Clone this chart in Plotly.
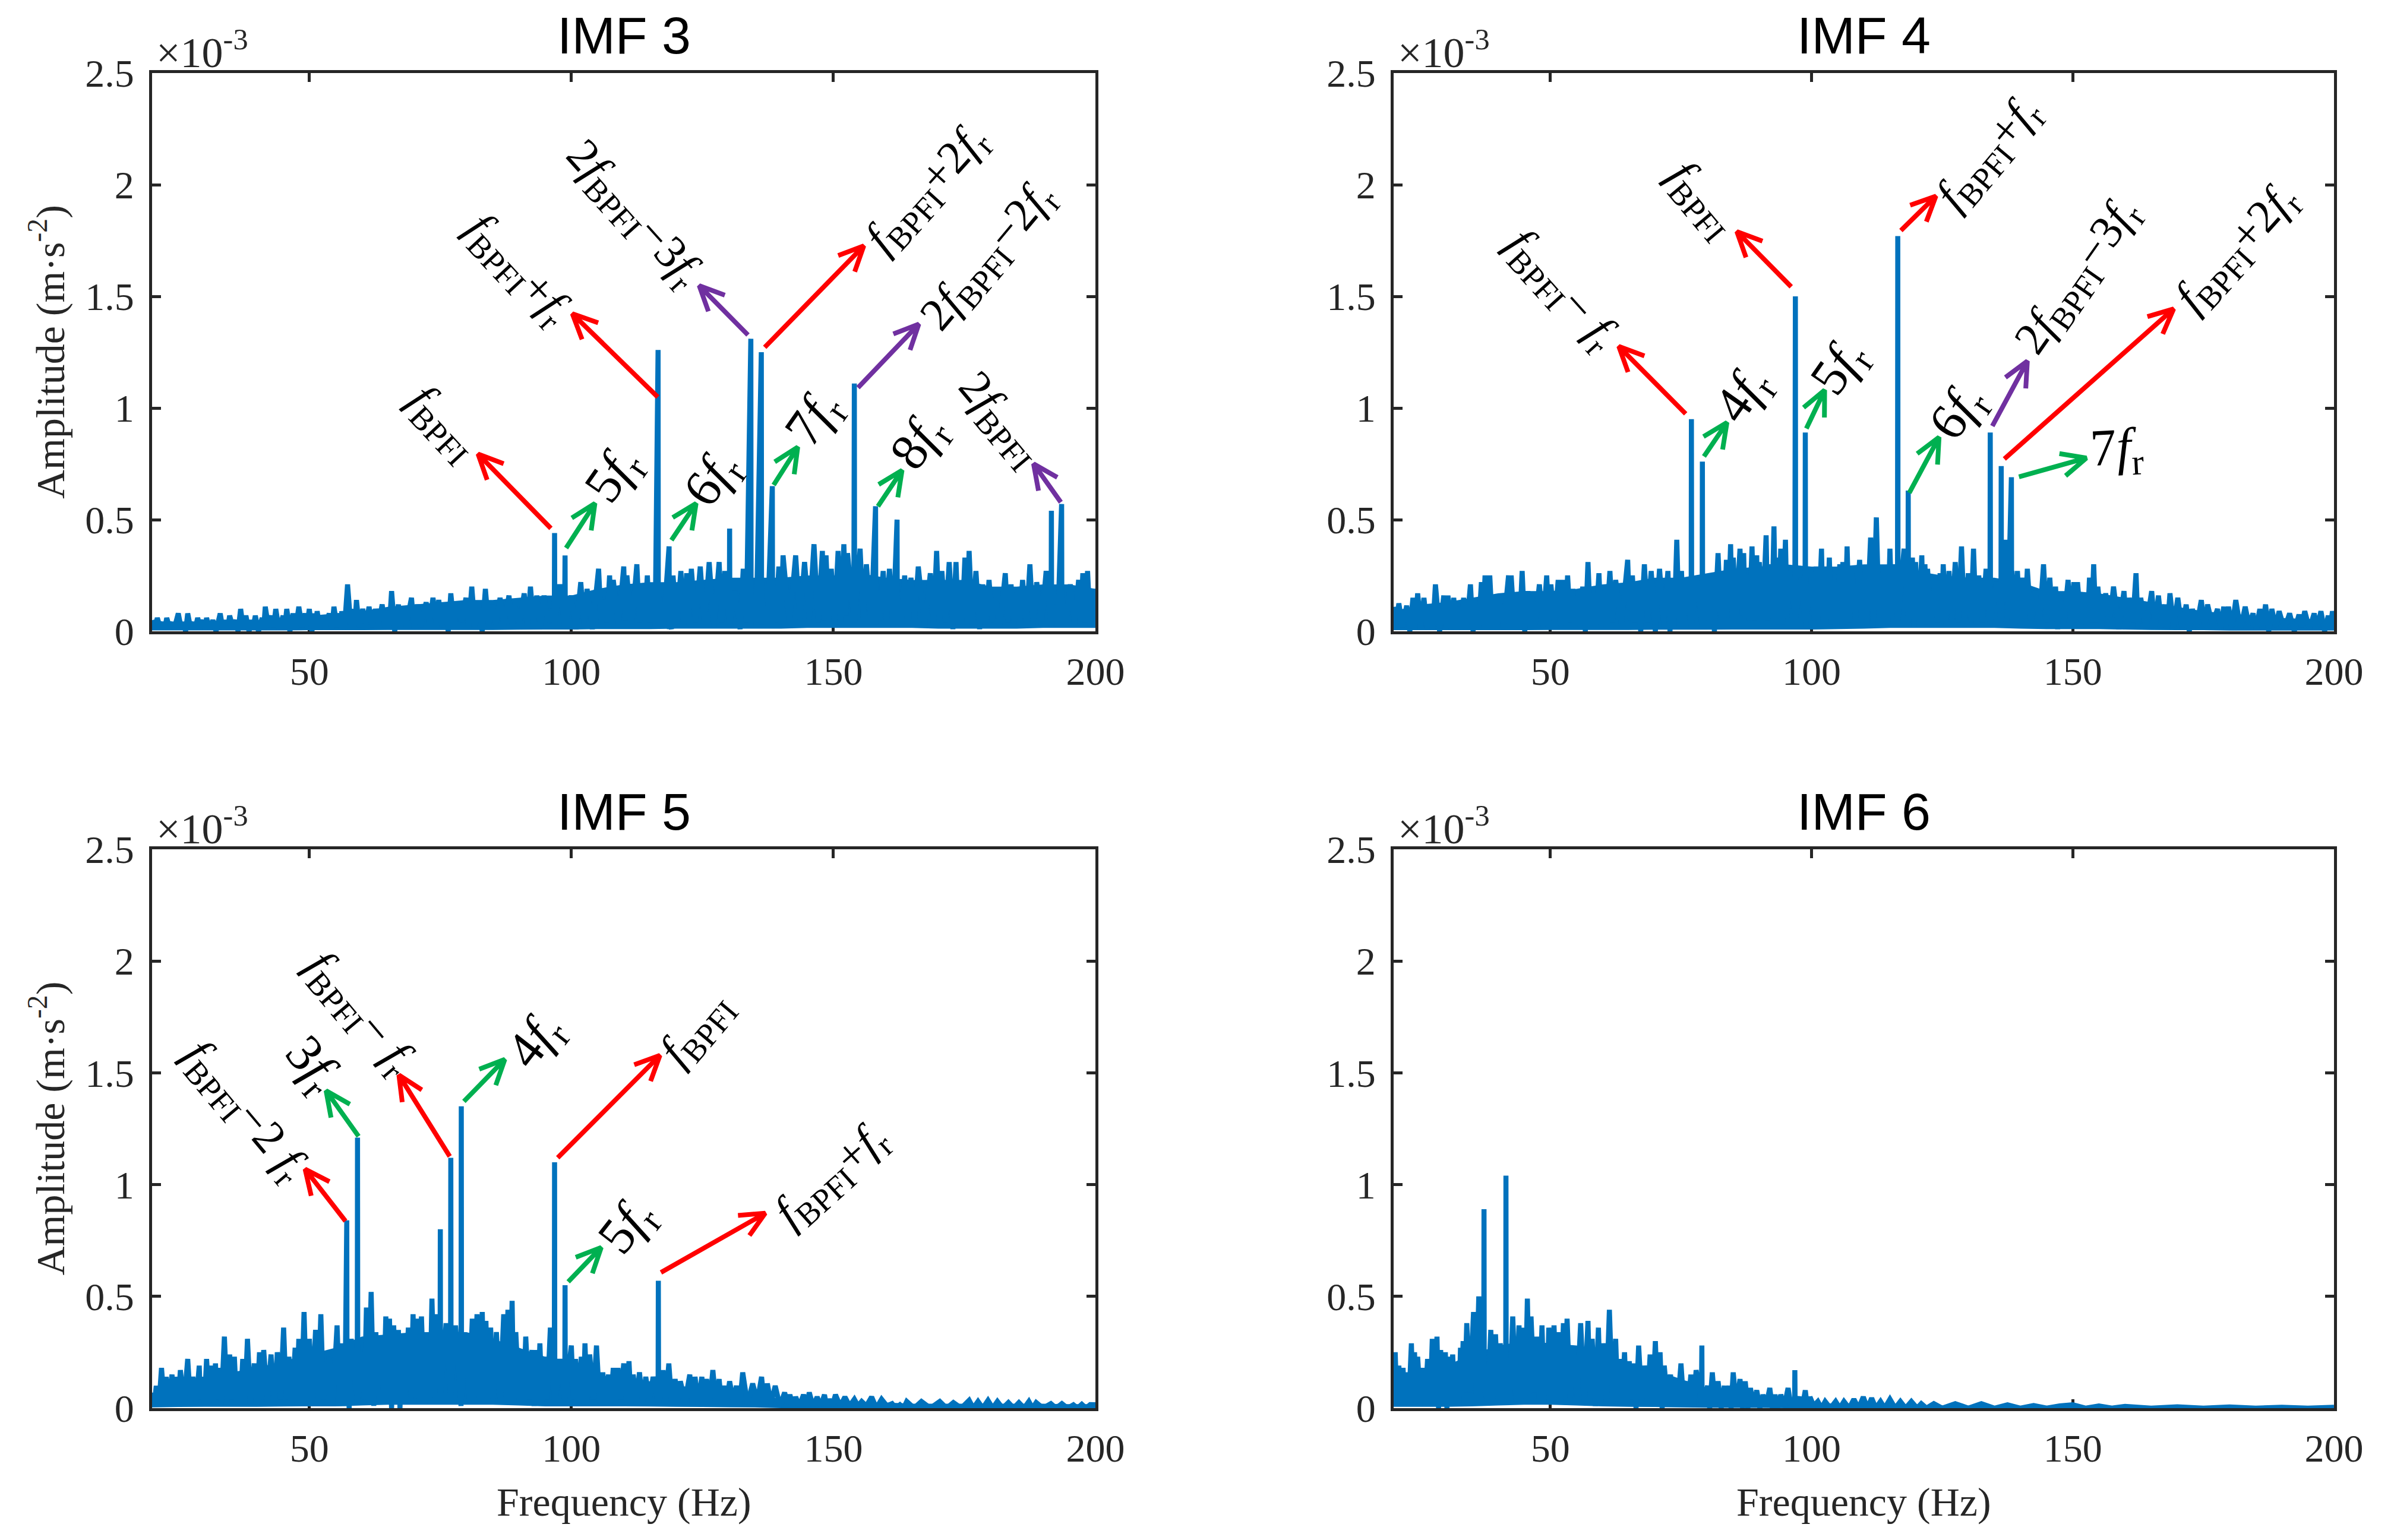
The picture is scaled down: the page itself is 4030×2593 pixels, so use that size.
import math
import plotly.graph_objects as go

W, H = 4030, 2593
PAGE_MARGIN = 8  # the page body sits the plot this far in from the window corner

# spectra, amplitude in 1e-3 m/s^2 (alternating peak / trough)
imf3_freq = [
    20, 20.5, 21, 21.5, 22, 22.4, 22.8, 23.3, 23.8, 24.2, 25, 25.5, 26, 26.4, 26.8, 27.3, 27.8, 28.2, 28.7, 29.2,
    29.8, 30.1, 30.4, 31, 31.6, 32.2, 33, 33.5, 34, 34.4, 34.8, 35.4, 36, 36.4, 36.9, 37.4, 37.9, 38.5, 39, 39.3,
    39.7, 40.3, 41, 41.3, 41.6, 42.2, 42.8, 43.2, 43.6, 44.2, 45, 45.3, 45.7, 46.3, 46.9, 47.4, 48, 48.6, 49.2, 49.6,
    50, 50.5, 51, 51.2, 51.5, 52, 52.6, 53.1, 53.8, 54.3, 54.7, 55.3, 55.8, 56, 56.2, 56.7, 57.3, 57.9, 58.4, 58.7,
    59, 59.5, 60.2, 60.8, 61.4, 62, 62.6, 63.2, 63.9, 64.5, 65, 65.3, 65.7, 66.3, 67, 67.5, 68, 68.5, 69.5, 70,
    70.6, 71.2, 72.3, 72.9, 73.6, 74.2, 74.7, 75.3, 76, 76.5, 77, 77.6, 78.2, 79, 79.9, 80.4, 81, 81.6, 82.2, 83,
    83.6, 84.2, 84.9, 85.6, 86.4, 87.1, 88.1, 88.7, 89.3, 90.1, 91, 91.6, 92.2, 92.8, 93.4, 94.1, 94.8, 95.5, 96.3, 96.75,
    96.8, 96.85, 97.8, 98.7, 98.8, 98.85, 100, 100.9, 101.8, 102.4, 103, 104, 105.2, 105.7, 106.4, 106.8, 107.3, 107.6, 108, 109,
    110, 110.3, 110.6, 111.5, 112.5, 113, 113.5, 114, 114.5, 114.9, 115.3, 116, 116.55, 116.6, 116.65, 117.6, 118.65, 118.7, 118.75, 119.1,
    119.4, 120.1, 120.9, 121.4, 122, 122.4, 122.9, 123.7, 124.6, 125.4, 126.3, 127.2, 128.2, 128.7, 129.3, 130.15, 130.2, 130.25, 131.2, 132.2,
    132.8, 133.4, 134.25, 134.3, 134.35, 135.3, 136.25, 136.3, 136.35, 137.4, 138.35, 138.4, 138.45, 139, 139.6, 140, 140.4, 141.6, 142.8, 143.6,
    144.5, 145.4, 146.3, 147.1, 147.9, 148.2, 148.6, 149.1, 149.6, 150.2, 150.9, 151.4, 152, 152.4, 152.7, 153.9, 154, 154.05, 155.1, 155.7,
    156.3, 157.2, 158.05, 158.1, 158.15, 158.8, 159.5, 160.1, 160.7, 161.4, 162.15, 162.2, 162.25, 162.9, 163.6, 164.2, 164.8, 165.5, 166.2, 167.4,
    168.5, 169.1, 169.7, 170.2, 170.7, 171.4, 172.1, 172.8, 173.4, 173.8, 174.1, 174.6, 175.1, 175.5, 175.9, 176.5, 177.2, 177.9, 178.5, 179.1,
    179.7, 180.3, 180.8, 181.8, 182.8, 183.3, 183.9, 184.5, 185.1, 185.6, 186.1, 186.8, 187.5, 188.1, 188.8, 189.7, 190.6, 191.55, 191.6, 191.65,
    192.2, 192.8, 193.55, 193.6, 193.65, 194.4, 195.2, 196, 196.8, 197.2, 197.6, 198, 198.5, 199, 199.6, 200,
]
imf3_amp = [
    .05, .01, .06, .02, .04, .01, .06, .02, .04, .01, .08, .02, .04, .00, .08, .02, .04, .01, .06, .02,
    .05, .01, .06, .01, .05, .00, .08, .01, .05, .01, .07, .02, .05, .00, .10, .01, .07, .00, .05, .02,
    .07, .00, .06, .01, .11, .02, .07, .02, .10, .01, .07, .01, .10, .00, .08, .01, .11, .02, .08, .03,
    .10, .00, .08, .02, .09, .01, .07, .02, .08, .01, .11, .02, .08, .01, .09, .01, .21, .03, .10, .03,
    .14, .02, .10, .03, .11, .02, .10, .03, .12, .01, .09, .03, .18, .00, .12, .02, .10, .03, .15, .01,
    .12, .02, .13, .03, .15, .04, .14, .02, .11, .00, .17, .03, .12, .04, .15, .01, .20, .02, .13, .00,
    .19, .02, .12, .03, .15, .03, .16, .02, .11, .03, .17, .01, .20, .03, .16, .02, .16, .04, .10, .03,
    .44, .03, .21, .02, .34, .03, .16, .01, .22, .03, .19, .01, .28, .03, .14, .04, .25, .05, .23, .03,
    .29, .05, .25, .02, .30, .04, .20, .05, .25, .04, .21, .02, 1.26, .02, .17, .03, .38, .01, .04, .01,
    .25, .03, .27, .02, .26, .05, .28, .04, .29, .02, .31, .02, .31, .04, .27, .02, .46, .03, .18, .01,
    .28, .04, 1.31, .02, .16, .04, 1.25, .03, .14, .02, .65, .02, .18, .04, .29, .03, .34, .03, .34, .05,
    .31, .05, .39, .04, .36, .05, .34, .06, .28, .02, .36, .03, .39, .07, .35, .05, 1.11, .04, .37, .06,
    .30, .03, .56, .03, .18, .05, .27, .05, .28, .02, .50, .03, .15, .02, .25, .03, .24, .05, .29, .02,
    .26, .03, .36, .04, .27, .04, .31, .01, .31, .05, .22, .06, .33, .04, .36, .02, .27, .01, .21, .03,
    .23, .04, .15, .03, .26, .04, .21, .03, .19, .05, .23, .02, .30, .03, .22, .03, .27, .02, .54, .03,
    .12, .02, .57, .03, .15, .04, .21, .03, .23, .05, .26, .04, .27, .02, .19, .10,
]

imf4_freq = [
    20, 20.4, 21, 21.7, 22.5, 23.1, 23.7, 24.1, 24.6, 25.2, 25.8, 26.4, 27, 27.5, 28, 28.8, 29.6, 30, 30.4, 31,
    31.5, 32, 32.5, 33, 33.4, 34, 34.7, 35.2, 35.8, 36.3, 36.8, 37.1, 37.5, 38, 38.4, 38.9, 39.4, 39.8, 40.2, 41,
    42, 42.2, 42.5, 43.1, 43.7, 44.1, 44.6, 45.1, 45.7, 46, 46.4, 47.1, 47.9, 48.6, 49.3, 49.7, 50.1, 50.8, 51.5, 52,
    52.4, 52.9, 53.3, 53.8, 54.3, 54.7, 55.1, 55.6, 56.2, 56.7, 57.2, 57.7, 58.1, 58.7, 59.3, 59.7, 60.1, 60.7, 61.4, 61.9,
    62.5, 63.6, 64.8, 65.2, 65.7, 66.2, 66.7, 67.3, 68, 68.6, 69.3, 70.1, 70.9, 71.7, 72.5, 72.9, 73.3, 73.7, 74.2, 74.6,
    75.1, 75.5, 76, 76.95, 77, 77.05, 78, 79.05, 79.1, 79.15, 79.8, 80.3, 80.8, 81.4, 82.1, 82.6, 83, 83.3, 83.7, 84.1,
    84.5, 84.8, 85, 85.6, 86.3, 86.7, 87, 87.3, 87.7, 88.1, 88.6, 89, 89.5, 89.7, 90, 90.6, 91.3, 91.6, 92, 92.4,
    92.8, 93.1, 93.4, 93.7, 94.1, 94.5, 95, 95.3, 95.7, 96.8, 96.9, 96.95, 98, 98.75, 98.8, 98.85, 100.1, 100.5, 100.9, 101.4,
    101.9, 102.2, 102.6, 103, 103.4, 103.8, 104.2, 104.8, 105.4, 105.7, 106, 106.4, 106.8, 107.2, 107.7, 108.4, 109.2, 109.6, 110, 110.6,
    111.3, 111.8, 112.4, 112.9, 113.4, 113.8, 114.2, 114.6, 115, 115.4, 115.8, 116.45, 116.5, 116.55, 117.7, 118.45, 118.5, 118.55, 119.3, 119.6,
    119.9, 120.5, 121.1, 121.4, 121.7, 122, 122.2, 122.9, 123.6, 124.1, 124.6, 124.9, 125.2, 125.7, 126.3, 126.9, 127.5, 128.1, 128.7, 129.3,
    130, 130.5, 131, 131.5, 132, 132.7, 133.4, 134.15, 134.2, 134.25, 135.4, 136.25, 136.3, 136.35, 137.1, 137.6, 138.25, 138.3, 138.35, 139,
    139.4, 139.9, 140.3, 140.8, 141.3, 142, 142.8, 143.6, 144.4, 145, 145.6, 146.1, 146.7, 147.1, 147.5, 148.3, 149.1, 149.6, 150.2, 150.5,
    150.9, 151.6, 152.4, 152.8, 153.2, 153.6, 154, 154.4, 154.8, 155.5, 156.3, 157, 157.8, 158.8, 159.8, 160.3, 160.8, 161.5, 162.1, 162.5,
    163, 164, 165.1, 165.7, 166.4, 167, 167.7, 168.1, 168.6, 169.3, 170.1, 170.9, 171.7, 172.3, 172.9, 173.7, 174.6, 175.2, 175.8, 176.7,
    177.7, 178.3, 178.9, 179.3, 179.8, 180.5, 181.2, 182.1, 183, 183.7, 184.5, 185.1, 185.8, 186.3, 186.9, 187.5, 188.1, 188.8, 189.5, 190.5,
    191.5, 192.4, 193.3, 193.8, 194.4, 195.3, 196.2, 196.8, 197.5, 198.2, 198.9, 199.3, 199.7, 200,
]
imf4_amp = [
    .11, .01, .125, .02, .115, .00, .15, .01, .17, .02, .15, .01, .11, .01, .21, .00, .16, .02, .16, .01,
    .15, .02, .11, .01, .15, .02, .21, .00, .12, .02, .22, .03, .25, .01, .25, .02, .16, .03, .16, .01,
    .25, .02, .25, .02, .14, .01, .27, .00, .18, .03, .17, .03, .21, .02, .25, .05, .21, .03, .23, .02,
    .23, .03, .25, .04, .19, .02, .16, .03, .20, .00, .31, .02, .17, .03, .26, .03, .17, .02, .27, .04,
    .23, .03, .32, .05, .25, .04, .20, .00, .30, .04, .27, .00, .28, .03, .27, .00, .23, .02, .41, .06,
    .27, .01, .24, .02, .95, .03, .24, .02, .76, .03, .20, .05, .26, .00, .35, .06, .26, .06, .32, .10,
    .39, .06, .33, .07, .37, .07, .35, .06, .25, .05, .38, .05, .34, .06, .31, .03, .43, .05, .30, .06,
    .47, .06, .33, .03, .37, .03, .41, .06, .27, .08, 1.5, .06, .24, .04, .89, .02, .26, .05, .29, .07,
    .37, .04, .29, .06, .33, .03, .23, .02, .30, .04, .31, .03, .38, .04, .26, .05, .32, .04, .25, .03,
    .42, .02, .51, .06, .26, .05, .27, .03, .37, .06, .30, .07, 1.77, .05, .37, .07, .63, .04, .33, .02,
    .31, .05, .34, .04, .30, .03, .28, .02, .23, .04, .26, .04, .30, .03, .27, .05, .31, .04, .38, .02,
    .26, .04, .37, .03, .25, .04, .28, .03, .89, .04, .22, .04, .74, .05, .41, .06, .69, .04, .27, .03,
    .27, .05, .24, .03, .28, .03, .18, .03, .30, .04, .24, .05, .20, .01, .16, .04, .23, .03, .22, .04,
    .22, .03, .17, .03, .24, .04, .30, .04, .20, .02, .17, .03, .20, .01, .18, .02, .15, .04, .26, .02,
    .15, .01, .18, .02, .16, .02, .12, .01, .17, .02, .15, .01, .12, .00, .10, .02, .14, .01, .12, .03,
    .10, .01, .11, .02, .11, .02, .14, .01, .11, .03, .08, .01, .10, .01, .12, .00, .10, .02, .09, .01,
    .08, .00, .075, .02, .09, .01, .08, .02, .09, .00, .07, .01, .09, .04,
]

imf5_freq = [
    20, 20.4, 20.8, 21.3, 21.8, 22.3, 22.7, 23.2, 23.8, 24.2, 24.6, 25, 25.4, 26.1, 26.8, 27.3, 27.8, 28.4, 29, 29.2,
    29.5, 30, 30.4, 30.9, 31.3, 31.7, 32.1, 32.3, 32.6, 33.2, 33.8, 34.3, 34.8, 35.2, 35.7, 36.1, 36.5, 36.9, 37.3, 37.7,
    38.2, 38.8, 39.5, 40, 40.5, 40.9, 41.3, 42, 42.7, 43.3, 43.9, 44.5, 45.1, 45.6, 46.1, 46.7, 47.3, 47.6, 48, 48.5,
    49, 49.5, 50, 50.6, 51.2, 51.7, 52.2, 52.7, 53.1, 53.4, 53.8, 54.5, 55.3, 55.8, 56.3, 56.8, 57.15, 57.2, 57.25, 57.6,
    58, 59.15, 59.2, 59.25, 59.8, 60.5, 60.9, 61.3, 61.8, 62.3, 62.7, 63, 63.6, 64.2, 64.6, 65, 65.3, 65.7, 66.1, 66.6,
    67, 67.3, 67.8, 68.3, 68.9, 69.4, 69.8, 70.2, 70.6, 71, 71.4, 71.9, 72.4, 73, 73.4, 73.9, 74.4, 74.95, 75, 75.05,
    76.1, 76.95, 77, 77.05, 77.9, 78.95, 79, 79.05, 80, 80.5, 81.1, 81.5, 82, 82.5, 83, 83.4, 83.7, 84.1, 84.6, 85.1,
    85.7, 86.4, 87.1, 87.5, 87.9, 88.3, 88.7, 89, 89.4, 90, 90.5, 90.9, 91.3, 91.9, 92.5, 92.9, 93.2, 93.6, 94, 94.4,
    94.8, 95.4, 96, 96.75, 96.8, 96.85, 97.8, 98.75, 98.8, 98.85, 100, 100.4, 100.8, 101.3, 101.9, 102.3, 102.6, 103, 103.5, 104.2,
    104.8, 105.4, 106, 106.5, 107.1, 107.5, 108, 108.5, 108.9, 109.4, 110, 110.5, 111, 111.4, 111.8, 112.4, 113, 113.6, 114.2, 114.9,
    115.6, 116.55, 116.6, 116.65, 117.5, 118, 118.6, 119.2, 119.8, 120.3, 120.8, 121.7, 122.6, 123.1, 123.6, 124.2, 124.9, 125.3, 125.8, 126.4,
    127, 127.6, 128.2, 128.6, 129.1, 129.6, 130.2, 130.9, 131.5, 132.1, 132.7, 133.6, 134.6, 135.5, 136.3, 136.8, 137.4, 138.1, 138.9, 139.8,
    140.7, 141.2, 141.7, 142.3, 142.8, 143.5, 144.3, 144.9, 145.4, 146.1, 146.9, 147.6, 148.3, 148.7, 149.2, 149.8, 150.4, 151.3, 152.2, 153.1,
    154, 154.7, 155.4, 156.3, 157.3, 158.2, 159.2, 160.2, 161.2, 161.9, 162.7, 163.4, 164, 165.4, 166.8, 168.5, 170.3, 171.6, 172.9, 174.4,
    175.9, 176.7, 177.6, 178.5, 179.5, 180.4, 181.3, 182.3, 183.4, 184.4, 185.4, 186.4, 187.3, 188, 188.7, 190, 191.5, 192.5, 193.6, 194.7,
    195.8, 196.6, 197.4, 198.2, 199, 200,
]
imf5_amp = [
    .07, .01, .10, .01, .18, .03, .14, .01, .15, .02, .14, .03, .17, .02, .22, .03, .14, .02, .19, .04,
    .14, .02, .22, .02, .19, .03, .20, .04, .18, .01, .32, .03, .24, .04, .23, .03, .16, .03, .22, .02,
    .31, .02, .20, .01, .25, .04, .26, .03, .24, .01, .25, .04, .36, .04, .23, .03, .27, .02, .31, .04,
    .43, .02, .31, .05, .35, .04, .42, .04, .20, .06, .23, .03, .37, .01, .29, .01, .84, .02, .31, .00,
    .31, .03, 1.21, .03, .25, .04, .45, .05, .52, .01, .34, .06, .32, .05, .41, .02, .40, .00, .37, .04,
    .35, .00, .33, .05, .36, .04, .42, .05, .40, .03, .41, .05, .30, .02, .49, .05, .42, .06, .80, .06,
    .38, .06, 1.12, .06, .37, .01, 1.35, .05, .33, .03, .40, .05, .42, .03, .43, .04, .39, .04, .36, .03,
    .34, .03, .42, .05, .44, .06, .48, .02, .34, .05, .25, .05, .32, .04, .26, .01, .26, .03, .29, .03,
    .23, .04, .36, .04, 1.10, .01, .22, .03, .55, .05, .28, .04, .22, .03, .23, .02, .29, .03, .24, .04,
    .28, .02, .16, .03, .15, .02, .18, .03, .18, .04, .20, .03, .21, .02, .15, .03, .16, .02, .14, .03,
    .14, .02, .57, .02, .17, .02, .20, .01, .13, .03, .12, .03, .15, .01, .14, .02, .14, .03, .13, .02,
    .17, .02, .13, .03, .10, .02, .12, .03, .10, .01, .16, .02, .11, .03, .14, .02, .11, .02, .10, .01,
    .07, .02, .06, .01, .05, .01, .06, .01, .07, .01, .05, .01, .06, .01, .04, .01, .06, .01, .05, .01,
    .04, .01, .03, .01, .05, .00, .04, .01, .02, .00, .015, .00, .03, .00, .03, .00, .03, .00, .025, .00,
    .035, .00, .03, .00, .035, .00, .03, .00, .025, .00, .025, .00, .03, .00, .025, .00, .02, .00, .02, .00,
    .015, .00, .017, .00, .016, .015,
]

imf6_freq = [
    20, 20.15, 20.3, 20.6, 21, 21.4, 21.8, 22.1, 22.5, 22.9, 23.4, 23.7, 24, 24.3, 24.6, 25.1, 25.6, 26, 26.5, 27,
    27.4, 27.8, 28.3, 28.6, 29, 29.4, 29.9, 30.2, 30.6, 30.9, 31.3, 31.7, 32.1, 32.5, 32.8, 33, 33.3, 33.6, 34, 34.6,
    35.3, 35.8, 36.3, 36.8, 37.25, 37.3, 37.35, 38, 38.6, 39, 39.5, 40, 40.4, 41, 41.45, 41.5, 41.55, 42.2, 42.8, 43.4,
    44, 44.4, 44.7, 45.2, 45.6, 46, 46.3, 46.9, 47.4, 47.9, 48.4, 48.8, 49.2, 49.4, 49.7, 50.2, 50.7, 51.2, 51.6, 52,
    52.5, 52.8, 53.2, 53.8, 54.4, 55.1, 55.8, 56.5, 57.2, 57.6, 58, 58.6, 59.2, 59.6, 60.1, 60.7, 61.3, 61.9, 62.5, 62.9,
    63.3, 63.7, 64.2, 64.6, 65.1, 65.5, 66, 66.4, 66.9, 67.5, 68, 68.6, 69.1, 69.6, 70.1, 70.5, 71, 71.4, 71.8, 72.4,
    73, 73.4, 73.9, 74.4, 75, 75.5, 76, 76.4, 76.9, 77.4, 77.9, 78.9, 79, 79.05, 80.1, 80.5, 81, 81.5, 82.1, 82.7,
    83.3, 83.7, 84.2, 84.6, 85, 85.6, 86.3, 86.8, 87.3, 87.8, 88.3, 88.9, 89.5, 90.1, 90.7, 91.3, 92, 92.5, 93, 93.5,
    94.1, 94.8, 95.5, 96.1, 96.75, 96.8, 96.85, 97.7, 98.2, 98.8, 99.2, 99.7, 100.4, 101.2, 101.9, 102.6, 103.6, 104.6, 105.4, 106.2,
    107.2, 108.1, 109, 109.9, 110.7, 111.5, 112.3, 113.2, 114, 115, 116, 117, 118, 119.1, 120.2, 121, 122, 123.4, 125, 127.5,
    130, 132.5, 135, 137.5, 140, 142.5, 145, 147.5, 150, 152.5, 155, 157.5, 160, 165, 170, 175, 180, 185, 190, 195, 200,
]
imf6_amp = [
    .16, .02, .25, .02, .19, .01, .18, .03, .16, .01, .29, .03, .25, .02, .23, .03, .18, .01, .22, .02,
    .31, .01, .32, .00, .26, .02, .25, .00, .23, .03, .24, .02, .18, .01, .27, .06, .30, .07, .38, .07,
    .43, .06, .50, .08, .09, .89, .09, .02, .35, .05, .33, .04, .29, .04, .04, 1.04, .04, .03, .41, .03,
    .37, .04, .36, .05, .49, .06, .41, .07, .32, .03, .37, .03, .27, .06, .36, .02, .37, .03, .34, .03,
    .38, .06, .40, .03, .27, .05, .38, .02, .39, .05, .31, .01, .36, .03, .29, .03, .44, .02, .31, .03,
    .22, .02, .25, .01, .21, .04, .20, .00, .28, .02, .19, .03, .24, .02, .30, .03, .25, .00, .19, .03,
    .15, .01, .12, .02, .20, .03, .12, .02, .15, .01, .17, .02, .28, .01, .10, .00, .16, .01, .12, .00,
    .10, .01, .10, .00, .16, .01, .13, .00, .12, .00, .09, .01, .08, .00, .06, .01, .09, .00, .06, .00,
    .06, .01, .09, .00, .01, .17, .01, .05, .00, .08, .00, .05, .01, .03, .00, .03, .00, .03, .00, .03,
    .00, .04, .00, .05, .00, .045, .00, .03, .00, .04, .00, .03, .00, .03, .00, .02, .00, .02, .00, .02,
    .00, .02, .00, .015, .00, .012, .00, .01, .015, .00, .01, .00, .008, .00, .006, .00, .005, .00, .004, .00, .004,
]

# solid part of the noise floor: top and bottom of the band that reads as filled
body_freq = [20, 25, 30, 35, 40, 45, 50, 55, 60, 65, 70, 75, 80, 85, 90, 95, 100, 105, 110, 115, 120, 125, 130,
             135, 140, 145, 150, 155, 160, 165, 170, 175, 180, 185, 190, 195, 200]
imf3_body_top = [.04, .04, .045, .05, .05, .06, .07, .08, .09, .11, .12, .13, .14, .14, .15, .16, .16, .19, .21, .22, .22, .23, .24,
                 .24, .24, .25, .25, .26, .24, .23, .23, .23, .20, .20, .21, .21, .19]
imf3_body_low = [.004, .004, .004, .004, .004, .004, .005, .005, .005, .006, .006, .006, .006, .006, .007, .008, .008, .01, .01, .01, .012, .012, .012,
                 .012, .012, .015, .015, .015, .015, .015, .012, .012, .012, .012, .015, .015, .015]
imf4_body_top = [.09, .12, .13, .15, .17, .18, .18, .19, .21, .22, .24, .24, .26, .28, .29, .30, .29, .29, .30, .30, .27, .25, .24,
                 .24, .22, .18, .18, .17, .15, .13, .11, .09, .08, .07, .06, .055, .05]
imf4_body_low = [.005, .005, .005, .005, .005, .005, .006, .006, .006, .006, .007, .007, .007, .008, .008, .008, .008, .01, .012, .015, .015, .015, .015,
                 .015, .012, .01, .01, .01, .008, .006, .005, .005, .003, .003, .003, .003, .003]
imf5_body_top = [.06, .12, .14, .16, .18, .21, .24, .27, .32, .33, .34, .34, .34, .31, .27, .23, .20, .15, .13, .12, .10, .09, .08,
                 .07, .04, .035, .03, .025, .025, .02, .02, .02, .02, .02, .02, .018, .018]
imf5_body_low = [.003, .005, .006, .006, .006, .007, .008, .008, .012, .015, .015, .015, .015, .015, .012, .008, .008, .008, .008, .007, .006, .005, .004,
                 .003, .0, .0, .0, .0, .0, .0, .0, .0, .0, .0, .0, .0, .0]
imf6_body_top = [.13, .17, .19, .24, .28, .30, .29, .28, .26, .19, .17, .13, .09, .08, .05, .04, .025, .02, .02, .018, .012, .01, .01,
                 .01, .008, .006, .01, .005, .004, .004, .004, .004, .004, .004, .004, .004, .004]
imf6_body_low = [.006, .006, .006, .008, .012, .015, .015, .012, .008, .006, .005, .003, .002, .001, .001, .0, .0, .0, .0, .0, .0, .0, .0,
                 .0, .0, .0, .0, .0, .0, .0, .0, .0, .0, .0, .0, .0, .0]

# arrows: start freq, start amp, tip freq, tip amp, colour key
imf3_arrows = [
    (96.1, .461, 82.2, .794, "red"), (99, .373, 104.5, .573, "green"), (116.5, 1.049, 100.2, 1.422, "red"),
    (119.1, .408, 123.8, .573, "green"), (133.7, 1.327, 124.4, 1.548, "purple"), (136.9, 1.272, 155.8, 1.726, "red"),
    (138.6, .655, 143.2, .825, "green"), (154.7, 1.091, 166.3, 1.376, "purple"), (158.5, .56, 163.1, .721, "green"),
    (193.4, .578, 188.2, .75, "purple"),
]
imf4_arrows = [
    (75.9, .974, 63.1, 1.276, "red"), (79.4, .783, 83.8, .935, "green"), (96.1, 1.543, 85.7, 1.79, "red"),
    (99, .908, 102.5, 1.08, "green"), (117.1, 1.795, 123.8, 1.949, "red"), (118.7, .62, 124.4, .869, "green"),
    (134.6, .919, 141.3, 1.21, "purple"), (136.9, .772, 169.3, 1.444, "red"), (139.7, .692, 152.6, .776, "green"),
]
imf5_arrows = [
    (56.9, .837, 49.2, 1.069, "red"), (59.4, 1.216, 53.2, 1.42, "green"), (76.8, 1.126, 67.1, 1.49, "red"),
    (79.5, 1.372, 87.3, 1.56, "green"), (97.4, 1.12, 116.9, 1.578, "red"), (99.4, .565, 105.7, .719, "green"),
    (117.1, .607, 137, .872, "red"),
]

F_BPFI = "<i>f</i><sub>BPFI</sub>"
F_R = "<i>f</i><sub>r</sub>"

# labels: freq, amp, text, angle
imf3_labels = [
    (75.4, .93, F_BPFI, 47), (108.2, .693, "5" + F_R, -55), (89.7, 1.618, F_BPFI + "+" + F_R, 47),
    (127.1, .677, "6" + F_R, -55), (111.8, 1.867, "2" + F_BPFI + "−3" + F_R, 48),
    (167.9, 1.977, F_BPFI + "+2" + F_R, -48), (146.4, .946, "7" + F_R, -55),
    (179.6, 1.675, "2" + F_BPFI + "−2" + F_R, -50), (166.5, .842, "8" + F_R, -55), (181.8, .946, "2" + F_BPFI, 50),
]
imf4_labels = [
    (52, 1.527, F_BPFI + "− " + F_R, 48), (87, 1.052, "4" + F_R, -55), (78.8, 1.933, F_BPFI, 50),
    (105.5, 1.177, "5" + F_R, -55), (134, 2.136, F_BPFI + "+" + F_R, -50), (128.2, .974, "6" + F_R, -55),
    (151.1, 1.587, "2" + F_BPFI + "−3" + F_R, -55), (181.5, 1.713, F_BPFI + "+2" + F_R, -48), (158.4, .809, "7" + F_R, -3),
]
imf5_labels = [
    (37.5, 1.328, F_BPFI + "−2 " + F_R, 50), (50.3, 1.534, "3" + F_R, 50), (59.4, 1.766, F_BPFI + "− " + F_R, 50),
    (93.3, 1.639, "4" + F_R, -52), (124, 1.694, F_BPFI, -50), (110.8, .806, "5" + F_R, -52),
    (149.7, 1.036, F_BPFI + "+" + F_R, -42),
]

colors = {"red": "#FF0000", "green": "#00B050", "purple": "#7030A0"}
SERIF = "Liberation Serif"
BLUE = "#0072BD"
DARK = "#262626"

# panel boxes in pixels: left, right, top, bottom
panels = [
    ("IMF 3", imf3_freq, imf3_amp, imf3_body_top, imf3_body_low, imf3_arrows, imf3_labels, (256, 1844, 123, 1063)),
    ("IMF 4", imf4_freq, imf4_amp, imf4_body_top, imf4_body_low, imf4_arrows, imf4_labels, (2346, 3929, 123, 1063)),
    ("IMF 5", imf5_freq, imf5_amp, imf5_body_top, imf5_body_low, imf5_arrows, imf5_labels, (256, 1844, 1430, 2371)),
    ("IMF 6", imf6_freq, imf6_amp, imf6_body_top, imf6_body_low, [], [], (2346, 3929, 1430, 2371)),
]


def px_x(px):
    return (px - PAGE_MARGIN) / W


def px_y(px):
    return 1 - (px - PAGE_MARGIN) / H


def arrow_xy(f0, a0, f1, a1, hz_px, amp_px):
    """Shaft plus two barbs, barbs worked out in pixel space so they stay symmetric."""
    ang = math.atan2((a1 - a0) * amp_px, (f1 - f0) * hz_px)
    xs, ys = [f0, f1], [a0, a1]
    for side in (25, -25):
        b = ang + math.pi + math.radians(side)
        xs += [f1 + 46 * math.cos(b) / hz_px, f1]
        ys += [a1 + 46 * math.sin(b) / amp_px, a1]
    return xs, ys


fig = go.Figure()
for i, (title, freq, amp, body_top, body_low, arrows, labels, (left, right, top, bottom)) in enumerate(panels):
    n = "" if i == 0 else str(i + 1)
    xa, ya = "x" + n, "y" + n
    hz_px = (right - left) / 180
    amp_px = (bottom - top) / 2.5

    # filled noise floor first, then the peak line on top of it
    fig.add_trace(go.Scatter(x=body_freq + body_freq[::-1], y=body_top + body_low[::-1], mode="none", fill="toself",
                             fillcolor=BLUE, xaxis=xa, yaxis=ya, showlegend=False))
    fig.add_trace(go.Scatter(x=freq, y=amp, mode="lines", xaxis=xa, yaxis=ya, cliponaxis=False,
                             line=dict(color=BLUE, width=8.5), showlegend=False))
    for f0, a0, f1, a1, c in arrows:
        xs, ys = arrow_xy(f0, a0, f1, a1, hz_px, amp_px)
        fig.add_trace(go.Scatter(x=xs, y=ys, mode="lines", xaxis=xa, yaxis=ya, cliponaxis=False,
                                 line=dict(color=colors[c], width=8), showlegend=False))
    for f, a, text, angle in labels:
        # the short harmonic labels are set a little larger in the original
        size = 78 if "BPFI" in text else 88
        fig.add_annotation(x=f, y=a, xref=xa, yref=ya, text=text, textangle=angle, showarrow=False,
                           font=dict(family=SERIF, size=size, color="black"))

    axis = dict(showline=True, linecolor=DARK, linewidth=5, mirror="ticks", ticks="inside", ticklen=15,
                tickwidth=5, tickcolor=DARK, showgrid=False, zeroline=False, layer="below traces", automargin=False,
                tickfont=dict(family=SERIF, size=66, color=DARK))
    fig.update_layout({
        "xaxis" + n: dict(axis, domain=[px_x(left), px_x(right)], range=[20, 200], tickvals=[50, 100, 150, 200],
                          anchor=ya, ticklabelstandoff=6),
        "yaxis" + n: dict(axis, domain=[px_y(bottom), px_y(top)], range=[0, 2.5], tickvals=[0, .5, 1, 1.5, 2, 2.5],
                          ticktext=["0", "0.5", "1", "1.5", "2", "2.5"], anchor=xa, ticklabelstandoff=12),
    })

    mid = (left + right) / 2
    fig.add_annotation(x=px_x(mid), y=px_y(top - 63), xref="paper", yref="paper", xanchor="center", yanchor="middle",
                       text=title, showarrow=False, font=dict(family="Liberation Sans", size=88, color="black"))
    fig.add_annotation(x=px_x(left + 5), y=px_y(top - 40), xref="paper", yref="paper", xanchor="left", yanchor="middle",
                       text="×10<sup>-3</sup>", showarrow=False, font=dict(family=SERIF, size=72, color=DARK))
    if i % 2 == 0:
        fig.add_annotation(x=px_x(80), y=px_y((top + bottom) / 2), xref="paper", yref="paper", xanchor="center",
                           yanchor="middle", textangle=-90, text="Amplitude (m·s<sup>-2</sup>)", showarrow=False,
                           font=dict(family=SERIF, size=68, color=DARK))
    if i >= 2:
        fig.add_annotation(x=px_x(mid), y=px_y(2529), xref="paper", yref="paper", xanchor="center", yanchor="middle",
                           text="Frequency (Hz)", showarrow=False, font=dict(family=SERIF, size=68, color=DARK))

fig.update_layout(width=W, height=H, margin=dict(l=0, r=0, t=0, b=0), paper_bgcolor="white",
                  plot_bgcolor="white", showlegend=False)
fig.write_html("out.html")
